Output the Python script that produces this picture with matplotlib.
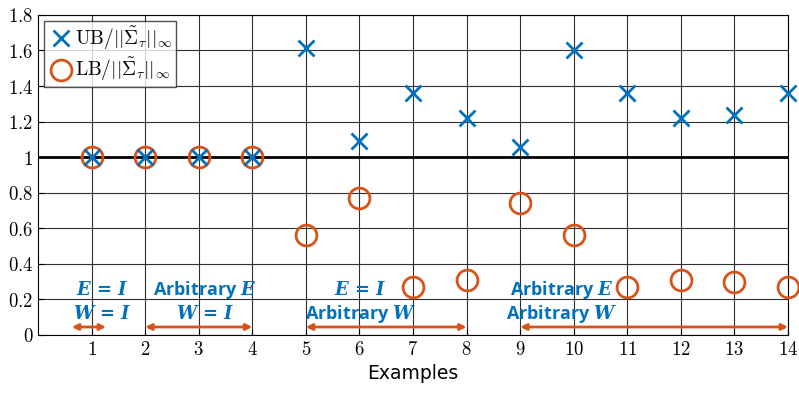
import numpy as np
import matplotlib.pyplot as plt

plt.rcParams['mathtext.fontset'] = 'cm'

# data
examples = np.arange(1, 15)
ub = [1, 1, 1, 1, 1.615, 1.09, 1.36, 1.22, 1.055, 1.60, 1.36, 1.22, 1.235, 1.36]
lb = [1, 1, 1, 1, 0.565, 0.77, 0.27, 0.31, 0.745, 0.56, 0.27, 0.31, 0.30, 0.27]

eq_e = r'$\boldsymbol{E}\,\boldsymbol{=}\,\boldsymbol{I}$'
eq_w = r'$\boldsymbol{W}\,\boldsymbol{=}\,\boldsymbol{I}$'
arb_e = r'Arbitrary $\boldsymbol{E}$'
arb_w = r'Arbitrary $\boldsymbol{W}$'

# groups: (arrow start, arrow end, text x, line 1, line 2)
groups = [
    (0.63, 1.27, 1.2, eq_e, eq_w),
    (2, 4, 3.12, arb_e, eq_w),
    (5, 8, 6.02, eq_e, arb_w),
    (9, 14, 9.77, arb_e, arb_w),
]

blue = '#0072BD'
orange = '#D95319'

fig = plt.figure(figsize=(7.99, 3.93), dpi=100)
ax = fig.add_axes([0.0476, 0.1476, 0.9386, 0.8144])

ax.grid(True, color='#303030', linewidth=0.8)
ax.set_axisbelow(True)
ax.axhline(1, color='black', linewidth=2, zorder=2)

ax.plot(examples, ub, linestyle='none', marker='x', markersize=11, mew=2,
        color=blue, label=r'$\mathrm{UB}/||\tilde{\Sigma}_\tau||_\infty$', zorder=4, clip_on=False)
ax.plot(examples, lb, linestyle='none', marker='o', markersize=15, mew=2,
        mfc='none', color=orange, label=r'$\mathrm{LB}/||\tilde{\Sigma}_\tau||_\infty$', zorder=3, clip_on=False)

for x0, x1, xt, t1, t2 in groups:
    ax.annotate('', xy=(x0, 0.045), xytext=(x1, 0.045),
                arrowprops=dict(arrowstyle='<|-|>', color=orange, lw=2,
                                mutation_scale=9, shrinkA=0, shrinkB=0))
    for yt, t in [(0.255, t1), (0.12, t2)]:
        ax.text(xt, yt, t, color=blue, ha='center', va='center', fontsize=13,
                family='Open Sans', weight='bold', math_fontfamily='dejavuserif')

ax.set_xlim(0, 14)
ax.set_ylim(0, 1.8)
ax.set_xticks(examples)
ax.set_xticklabels(['$%d$' % e for e in examples])
yt = np.round(np.arange(0, 1.81, 0.2), 1)
ax.set_yticks(yt)
ax.set_yticklabels(['$%g$' % v for v in yt])
ax.tick_params(direction='in', labelsize=13.5, length=4)
ax.set_xlabel('Examples', fontsize=13.5, labelpad=4)

leg = ax.legend(loc='upper left', fontsize=14, frameon=True, fancybox=False,
                edgecolor='#262626', handletextpad=0.0, borderpad=0.2,
                labelspacing=0.2, handlelength=1.4, borderaxespad=0.3)
leg.get_frame().set_linewidth(1.0)

fig.savefig('out.png', dpi=100)
